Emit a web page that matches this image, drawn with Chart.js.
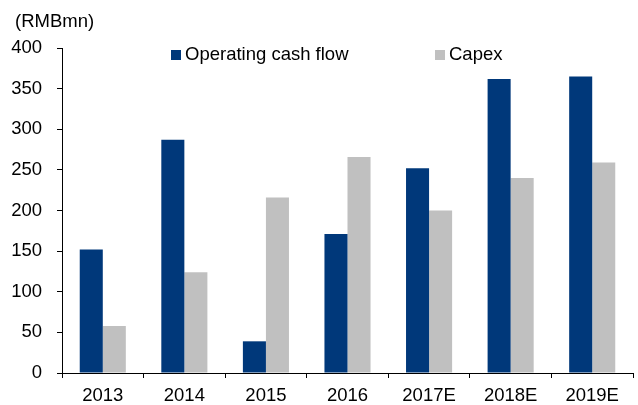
<!DOCTYPE html>
<html>
<head>
<meta charset="utf-8">
<script src="https://cdn.jsdelivr.net/npm/chart.js"></script>
<style>
  html, body { margin: 0; padding: 0; background: #fff; }
  #wrap { position: relative; width: 638px; height: 405px; }
</style>
</head>
<body>
<div id="wrap"><canvas id="myChart" width="638" height="405"></canvas></div>
<script>
const years = ['2013', '2014', '2015', '2016', '2017E', '2018E', '2019E']
const operating_cash_flow = [152, 287, 39, 171, 252, 362, 365]
const capex = [58, 124, 216, 266, 200, 240, 259]
const unit_label = '(RMBmn)'

const navy = '#00387A'
const grey = '#C0C0C0'
const font_family = '"Liberation Sans", Arial, sans-serif'
const font_size = 18.5

// legend + unit text drawn on the canvas
const extras = {
    id: 'extras',
    afterDraw(chart) {
        const ctx = chart.ctx
        ctx.save()
        ctx.font = `${font_size}px ${font_family}`
        ctx.fillStyle = '#000'
        ctx.textBaseline = 'middle'
        ctx.textAlign = 'left'
        ctx.fillText(unit_label, 15, 22)

        const legend_x = [171, 435]
        chart.data.datasets.forEach((ds, i) => {
            ctx.fillStyle = ds.backgroundColor
            ctx.fillRect(legend_x[i], 50, 10, 10)
            ctx.fillStyle = '#000'
            ctx.fillText(ds.label, legend_x[i] + 14, 55)
        })
        ctx.restore()
    }
}

let myChart = new Chart(document.getElementById('myChart'),
    {
        type: 'bar',
        data: {
            labels: years,
            datasets: [{
                label: 'Operating cash flow',
                backgroundColor: navy,
                data: operating_cash_flow,
                categoryPercentage: 0.565,
                barPercentage: 1
            }, {
                label: 'Capex',
                backgroundColor: grey,
                data: capex,
                categoryPercentage: 0.565,
                barPercentage: 1
            }]
        },
        options: {
            responsive: false,
            animation: false,
            layout: { padding: { top: 48, right: 5, left: 0, bottom: 0 } },
            scales: {
                x: {
                    grid: { offset: true, drawOnChartArea: false, tickLength: 5, color: '#000', tickColor: '#000' },
                    border: { color: '#000', width: 1 },
                    ticks: { color: '#000', padding: 7, font: { size: font_size, family: font_family } },
                    afterFit: scale => { scale.height = 32 }
                },
                y: {
                    min: 0,
                    max: 400,
                    grid: { drawOnChartArea: false, tickLength: 5, color: '#000', tickColor: '#000' },
                    border: { color: '#000', width: 1 },
                    ticks: { stepSize: 50, color: '#000', padding: 15, font: { size: font_size, family: font_family } },
                    afterFit: scale => { scale.width = 62 }
                }
            },
            plugins: { legend: { display: false }, tooltip: { enabled: false } }
        },
        plugins: [extras]
    });
</script>
</body>
</html>
